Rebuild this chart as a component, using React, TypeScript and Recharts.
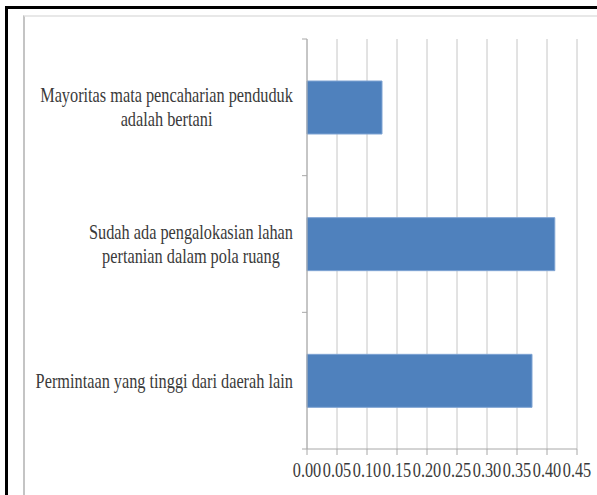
import { BarChart, Bar, XAxis, YAxis, CartesianGrid } from "recharts";

const categories = [
  "Mayoritas mata pencaharian penduduk\nadalah bertani",
  "Sudah ada pengalokasian lahan\npertanian dalam pola ruang",
  "Permintaan yang tinggi dari daerah lain",
];
const values = [0.125, 0.413, 0.375];
const xTicks = [0, 0.05, 0.1, 0.15, 0.2, 0.25, 0.3, 0.35, 0.4, 0.45];

const data = categories.map((name, i) => ({ name, value: values[i] }));

const W = 597;
const H = 495;
const TOP = 39;
const X_AXIS_H = 46;
const Y_AXIS_W = 307;
const RIGHT = 20;
const FONT = "'Liberation Serif', 'Times New Roman', serif";
const FONT_SIZE = 21;
const SQUEEZE = 0.776;
const TEXT = "#3a3a3a";
const AXIS = "#a8a8a8";
const GRID = "#c6c6c6";

const band = (H - TOP - X_AXIS_H) / categories.length;

let ctx: CanvasRenderingContext2D | null = null;
const measure = (s: string) => {
  if (!ctx) {
    ctx = document.createElement("canvas").getContext("2d");
    if (ctx) ctx.font = `${FONT_SIZE}px 'Liberation Serif'`;
  }
  return ctx ? ctx.measureText(s).width : s.length * FONT_SIZE * 0.45;
};

const CategoryTick = (props: any) => {
  const { y, payload, index } = props;
  const lines: string[] = String(payload.value).split("\n");
  const blockW = Math.max(...lines.map(measure));
  const cx = Y_AXIS_W - 14 - (blockW * SQUEEZE) / 2;
  const lh = 24;
  const top = y - band / 2;
  return (
    <g>
      <line x1={Y_AXIS_W - 5} x2={Y_AXIS_W} y1={top} y2={top} stroke={AXIS} />
      {index === categories.length - 1 && (
        <line x1={Y_AXIS_W - 5} x2={Y_AXIS_W} y1={y + band / 2} y2={y + band / 2} stroke={AXIS} />
      )}
      <g transform={`translate(${cx},${y}) scale(${SQUEEZE},1)`}>
        {lines.map((l, i) => (
          <text
            key={i}
            x={0}
            y={(i - (lines.length - 1) / 2) * lh + 7}
            textAnchor="middle"
            fill={TEXT}
            fontFamily={FONT}
            fontSize={FONT_SIZE}
          >
            {l}
          </text>
        ))}
      </g>
    </g>
  );
};

const ValueTick = (props: any) => {
  const { x, y, payload } = props;
  return (
    <text
      transform={`translate(${x},${y + 20}) scale(${SQUEEZE},1)`}
      textAnchor="middle"
      fill={TEXT}
      fontFamily={FONT}
      fontSize={FONT_SIZE}
    >
      {Number(payload.value).toFixed(2)}
    </text>
  );
};

export default function App() {
  return (
    <div
      style={{
        position: "fixed",
        left: 0,
        top: 0,
        width: W,
        height: H,
        background: "#fff",
        overflow: "hidden",
      }}
    >
      <div style={{ position: "absolute", left: 5, top: 6, width: W, height: 2.5, background: "#000" }} />
      <div style={{ position: "absolute", left: 5, top: 6, width: 2.5, height: H, background: "#000" }} />
      <div
        style={{
          position: "absolute",
          left: 23,
          top: 15,
          width: W,
          height: H,
          borderLeft: "2px solid #c4c4c4",
          borderTop: "2px solid #e8e8e8",
        }}
      />
      <div style={{ position: "absolute", left: 0, top: 0 }}>
        <BarChart
          width={W}
          height={H}
          data={data}
          layout="vertical"
          margin={{ top: TOP, right: RIGHT, bottom: 0, left: 0 }}
        >
          <CartesianGrid horizontal={false} stroke={GRID} />
          <XAxis
            type="number"
            domain={[0, 0.45]}
            ticks={xTicks}
            height={X_AXIS_H}
            tickSize={6}
            tickMargin={2}
            axisLine={{ stroke: AXIS }}
            tickLine={{ stroke: AXIS }}
            tick={<ValueTick />}
            interval={0}
          />
          <YAxis
            type="category"
            dataKey="name"
            width={Y_AXIS_W}
            axisLine={{ stroke: AXIS }}
            tickLine={false}
            tick={<CategoryTick />}
            interval={0}
          />
          <Bar dataKey="value" fill="#4f81bd" stroke="#7ea3d3" strokeWidth={1} barSize={53} isAnimationActive={false} />
        </BarChart>
      </div>
    </div>
  );
}
